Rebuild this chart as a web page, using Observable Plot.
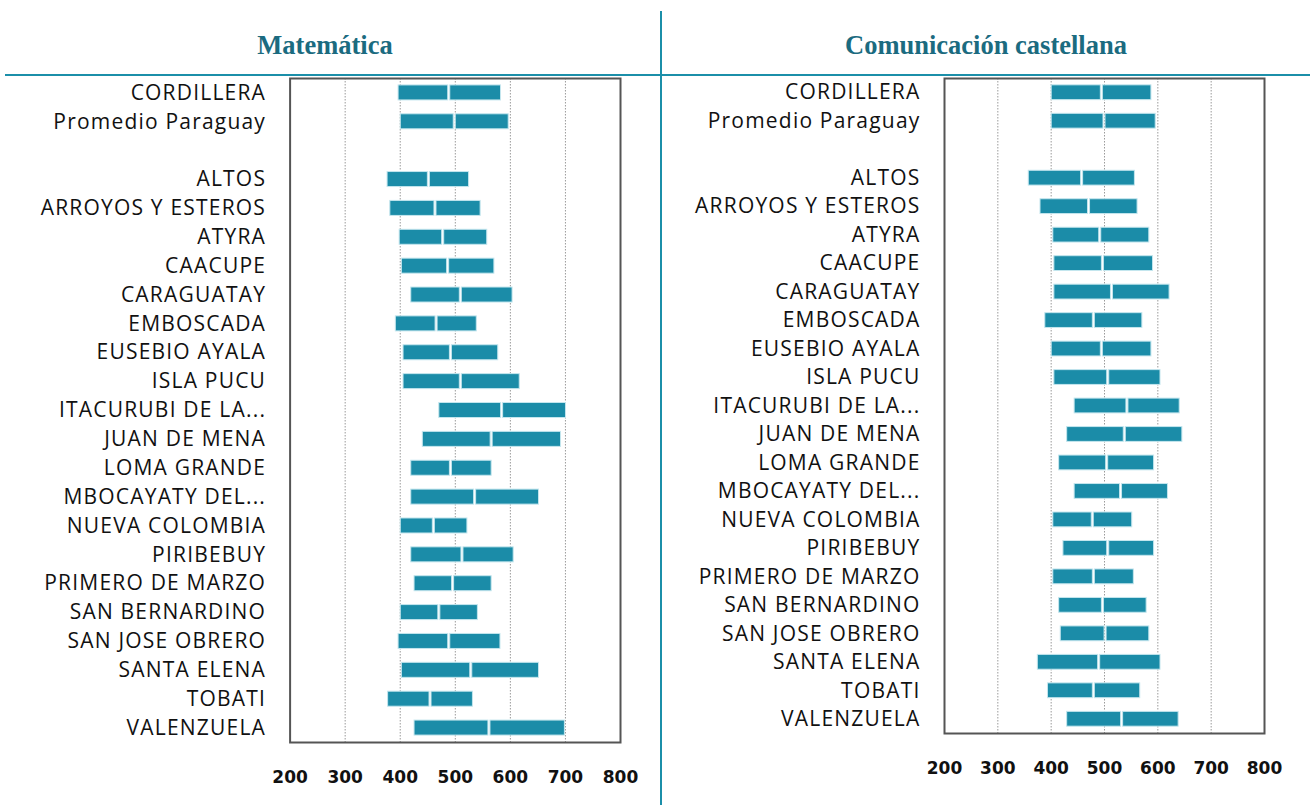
<!DOCTYPE html>
<html>
<head>
<meta charset="utf-8">
<script src="https://cdn.jsdelivr.net/npm/d3@7"></script>
<script src="https://cdn.jsdelivr.net/npm/@observablehq/plot@0.6"></script>
<style>
  html, body { margin: 0; padding: 0; background: #fff; }
  #page { position: relative; width: 1310px; height: 805px; overflow: hidden; background: #fff; }
  .title { position: absolute; top: 30px; line-height: 30px; font-family: "Liberation Serif", serif; font-weight: bold; font-size: 26.5px; color: #1b6b80; text-align: center; }
  .hline { position: absolute; left: 5px; top: 74px; width: 1305px; height: 2px; background: #1b8fa9; }
  .vline { position: absolute; left: 660px; top: 11px; width: 2px; height: 794px; background: #1b8fa9; }
  .panel { position: absolute; }
  .ylab g[aria-label="y-axis tick label"] text { letter-spacing: 1.2px; }
</style>
</head>
<body>
<div id="page">
  <div class="title" style="left:0px;width:650px;">Matemática</div>
  <div class="title" style="left:662px;width:648px;">Comunicación castellana</div>
  <div class="hline"></div>
  <div class="vline"></div>
  <div class="panel ylab" id="left" style="left:0px;top:60px;"></div>
  <div class="panel ylab" id="right" style="left:662px;top:61px;"></div>
</div>
<script>
const categories = ["CORDILLERA", "Promedio Paraguay", " ", "ALTOS", "ARROYOS Y ESTEROS", "ATYRA", "CAACUPE", "CARAGUATAY", "EMBOSCADA", "EUSEBIO AYALA", "ISLA PUCU", "ITACURUBI DE LA...", "JUAN DE MENA", "LOMA GRANDE", "MBOCAYATY DEL...", "NUEVA COLOMBIA", "PIRIBEBUY", "PRIMERO DE MARZO", "SAN BERNARDINO", "SAN JOSE OBRERO", "SANTA ELENA", "TOBATI", "VALENZUELA"];

// Matemática: low end, mean, high end (null = blank row)
const matLow  = [397, 401, null, 377, 382, 399, 403, 420, 392, 406, 406, 471, 441, 420, 420, 401, 420, 426, 401, 397, 403, 378, 426];
const matMean = [489, 499, null, 452, 464, 478, 487, 510, 466, 492, 510, 585, 566, 492, 536, 461, 513, 496, 471, 489, 529, 455, 562];
const matHigh = [583, 597, null, 525, 546, 558, 571, 604, 539, 578, 617, 701, 692, 566, 652, 522, 606, 566, 541, 582, 652, 532, 699];

// Comunicación castellana: low end, mean, high end
const comLow  = [401, 401, null, 358, 380, 404, 406, 406, 389, 401, 406, 444, 430, 415, 444, 404, 423, 404, 415, 418, 375, 394, 430];
const comMean = [495, 500, null, 458, 471, 492, 497, 514, 480, 495, 507, 543, 538, 505, 531, 478, 507, 480, 497, 502, 490, 480, 533];
const comHigh = [588, 596, null, 557, 562, 584, 591, 622, 571, 588, 605, 641, 646, 593, 619, 552, 593, 555, 579, 584, 605, 567, 639];

const xTicks = [200, 300, 400, 500, 600, 700, 800];
const gridTicks = [300, 400, 500, 600, 700];

function rows(low, mean, high) {
  return categories.map((c, i) => ({cat: c, low: low[i], mean: mean[i], high: high[i]}))
    .filter(d => d.low != null);
}

function panel(data, opts) {
  return Plot.plot({
    width: opts.width,
    height: opts.height,
    marginLeft: opts.marginLeft,
    marginRight: opts.marginRight,
    marginTop: opts.marginTop,
    marginBottom: opts.marginBottom,
    style: {background: "transparent", overflow: "visible"},
    x: {domain: [200, 800], ticks: xTicks},
    y: {domain: categories, paddingInner: 0.48, paddingOuter: 0.24, round: false},
    marks: [
      Plot.ruleX(gridTicks, {stroke: "#9a9a9a", strokeWidth: 1, strokeDasharray: "1.5,1.5"}),
      Plot.barX(data, {y: "cat", x1: "low", x2: "mean", fill: "#1b8ca8", stroke: "#c4e6ee", strokeWidth: 1, insetRight: 1}),
      Plot.barX(data, {y: "cat", x1: "mean", x2: "high", fill: "#1b8ca8", stroke: "#c4e6ee", strokeWidth: 1, insetLeft: 1}),
      Plot.frame({stroke: "#555", strokeWidth: 2}),
      Plot.axisX({ticks: xTicks, tickSize: 0, tickPadding: opts.tickPad, label: null,
        fontSize: 17, fontWeight: "bold", fontFamily: "DejaVu Sans", fill: "#111"}),
      Plot.axisY({tickSize: 0, tickPadding: opts.yPad, label: null,
        fontSize: 21, fontFamily: "Open Sans", fill: "#111"})
    ]
  });
}

document.getElementById("left").appendChild(panel(rows(matLow, matMean, matHigh), {
  width: 660, height: 732, marginLeft: 289.6, marginRight: 40, marginTop: 18, marginBottom: 50, tickPad: 28, yPad: 24
}));
document.getElementById("right").appendChild(panel(rows(comLow, comMean, comHigh), {
  width: 648, height: 722, marginLeft: 282, marginRight: 46, marginTop: 17, marginBottom: 50, tickPad: 28, yPad: 24
}));
</script>
</body>
</html>
